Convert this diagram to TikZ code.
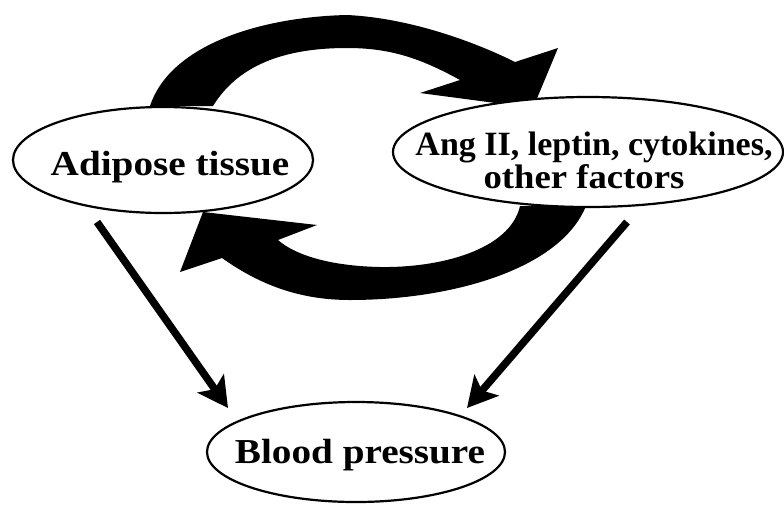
\documentclass[tikz,border=0pt]{standalone}
\usepackage{fontspec}
\setmainfont{Liberation Serif}
\newfontfamily\widefont{Liberation Serif}[FakeStretch=1.12]
\newfontfamily\midfont{Liberation Serif}[FakeStretch=1.08]
\usetikzlibrary{shapes.geometric,arrows.meta}
\begin{document}
\begin{tikzpicture}[x=1pt,y=-1pt,
  oval/.style={ellipse, draw=black, line width=2.2pt, fill=white, inner sep=0pt},
  lbl/.style={font=\widefont\bfseries\fontsize{35}{33}\selectfont, inner sep=0pt},
  lblang/.style={font=\bfseries\fontsize{34}{33}\selectfont, inner sep=0pt},
  lblangw/.style={font=\midfont\bfseries\fontsize{34}{33}\selectfont, inner sep=0pt},
  bigarrow/.style={fill=black},
  sarrow/.style={line width=7.5pt, -{Stealth[length=30pt,width=32pt,inset=7pt]}}]
\useasboundingbox (0,0) rectangle (784,504);
\fill[white] (0,0) rectangle (784,504);
% thick feedback arrows (drawn first, ellipses cover their ends)
\fill[bigarrow] (150,106) .. controls (170,45) and (260,17) .. (347,15)
  .. controls (410,18) and (475,42) .. (515,62)
  -- (558,48) -- (533,108) -- (420,93) -- (460,80)
  .. controls (420,58) and (390,48) .. (347,48)
  .. controls (290,48) and (240,62) .. (213,106) -- cycle;
\fill[bigarrow] (520,206) .. controls (510,250) and (440,268) .. (380,267)
  .. controls (330,266) and (295,255) .. (278,240)
  -- (317,225) -- (203,212) -- (180,272) -- (222,258)
  .. controls (260,285) and (300,300) .. (350,300)
  .. controls (450,300) and (560,270) .. (586,206) -- cycle;
% ellipses
\node[oval, minimum width=300pt, minimum height=106pt] (adip) at (163,160) {};
\node[oval, minimum width=390pt, minimum height=110pt] (ang) at (588,152) {};
\node[oval, minimum width=298pt, minimum height=100pt] (bp) at (356,452) {};
% labels
\node[lbl, anchor=base] (adipT) at (170,175) {Adipose tissue};
\node[lblang, anchor=base] (angT1) at (594,155) {Ang II, leptin, cytokines,};
\node[lblangw, anchor=base] (angT2) at (584,188) {other factors};
\node[lbl, anchor=base] (bpT) at (360,463) {Blood pressure};
% straight arrows
\coordinate (a1) at (97,222);
\coordinate (a2) at (228,408);
\coordinate (b1) at (627,222);
\coordinate (b2) at (467,408);
\draw[sarrow] (a1) -- (a2);
\draw[sarrow] (b1) -- (b2);
\end{tikzpicture}
\end{document}
